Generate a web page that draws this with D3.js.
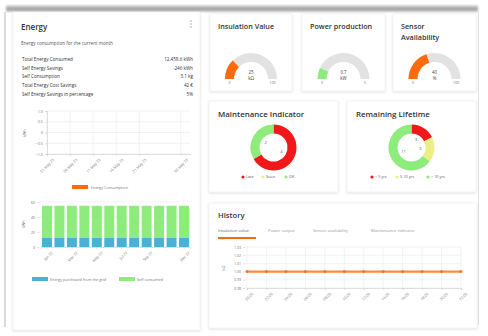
<!DOCTYPE html>
<html>
<head>
<meta charset="utf-8">
<script src="https://cdn.jsdelivr.net/npm/d3@7"></script>
<style>
  html, body { margin: 0; padding: 0; background: #fff; }
  svg { display: block; font-family: "Open Sans", "Noto Sans", sans-serif; }
</style>
</head>
<body>
<svg id="dash" width="488" height="336"></svg>
<script>
// ---- data ----
const energySummaryLabels = ["Total Energy Consumed", "Self Energy Savings", "Self Consumption", "Total Energy Cost Savings", "Self Energy Savings in percentage"];
const energySummaryValues = ["12,458.6 kWh", "-246 kWh", "3.1 kg", "42 €", "5%"];

const consumptionSeries = [];               // no readings for this period
const consumptionTicks = ["2023-05-01", "2023-05-06", "2023-05-11", "2023-05-16", "2023-05-21", "2023-05-30"];
const consumptionYTicks = [-1, -0.5, 0, 0.5, 1];

const barMonths = ["Jan 22", "Feb 22", "Mar 22", "Apr 22", "May 22", "Jun 22", "Jul 22", "Aug 22", "Sep 22", "Oct 22", "Nov 22", "Dec 22"];
const barTickMonths = ["Jan 22", "Mar 22", "May 22", "Jul 22", "Sep 22", "Dec 22"];
const purchasedEnergy = [12, 12, 12, 12, 12, 12, 12, 12, 12, 12, 12, 12];
const selfConsumed   = [43, 43, 43, 43, 43, 43, 43, 43, 43, 43, 43, 43];
const barYTicks = [0, 20, 40, 60];

const gaugeTitles = [["Insulation Value"], ["Power production"], ["Sensor", "Availability"]];
const gaugeValues = [25, 0.7, 40];
const gaugeMax    = [100, 5, 100];
const gaugeUnits  = ["kΩ", "kW", "%"];

const maintenanceLabels = ["Late", "Soon", "OK"];
const maintenanceValues = [4, 0, 2];
const lifetimeLabels = ["< 5 yrs", "5-10 yrs", "> 10 yrs"];
const lifetimeValues = [3, 3, 11];

const historyTabs = ["Insulation value", "Power output", "Sensor availability", "Maintenance indicator"];
const historyTimes = ["00:00", "02:00", "04:00", "06:00", "08:00", "10:00", "12:00", "14:00", "16:00", "18:00", "20:00", "22:00"];
const historyValues = [1, 1, 1, 1, 1, 1, 1, 1, 1, 1, 1, 1];
const historyYTicks = [0.98, 0.99, 1.00, 1.01, 1.02, 1.03];

// ---- palette ----
const ORANGE = "#ff6a0d", GREEN = "#8eec7c", BLUE = "#45b2d6", RED = "#f01818", YELLOW = "#eeee88";
const TEXT = "#333", MUTED = "#777", GRID = "#e9e9e9";

const svg = d3.select("#dash");
const defs = svg.append("defs");

const shadow = defs.append("filter").attr("id", "cardShadow").attr("x", "-10%").attr("y", "-10%").attr("width", "120%").attr("height", "120%");
shadow.append("feDropShadow").attr("dx", 0).attr("dy", 0.8).attr("stdDeviation", 1).attr("flood-color", "#000").attr("flood-opacity", 0.16);

const band = defs.append("linearGradient").attr("id", "topBand").attr("x1", 0).attr("y1", 0).attr("x2", 0).attr("y2", 1);
band.append("stop").attr("offset", "0%").attr("stop-color", "#e2e2e2");
band.append("stop").attr("offset", "55%").attr("stop-color", "#9a9a9a");
band.append("stop").attr("offset", "100%").attr("stop-color", "#cfcfcf");
const soft = defs.append("filter").attr("id", "soft");
soft.append("feGaussianBlur").attr("stdDeviation", 0.8);

// page frame
svg.append("rect").attr("width", 488).attr("height", 336).attr("fill", "#fff");
svg.append("rect").attr("x", 6).attr("y", 5).attr("width", 472).attr("height", 7).attr("fill", "url(#topBand)").attr("filter", "url(#soft)");
svg.append("line").attr("x1", 5).attr("x2", 5).attr("y1", 12).attr("y2", 327).attr("stroke", "#cfcfcf").attr("stroke-width", 1.5);
svg.append("line").attr("x1", 478.5).attr("x2", 478.5).attr("y1", 12).attr("y2", 325).attr("stroke", "#e2e2e2").attr("stroke-width", 1);

function card(x, y, w, h) {
  svg.append("rect").attr("x", x).attr("y", y).attr("width", w).attr("height", h)
    .attr("fill", "#fff").attr("stroke", "#efefef").attr("stroke-width", 0.6).attr("filter", "url(#cardShadow)");
  return svg.append("g");
}
function title(g, x, y, lines, size) {
  lines.forEach((t, i) => g.append("text").attr("x", x).attr("y", y + i * 11).text(t)
    .attr("font-size", size || 7.8).attr("font-weight", 600).attr("fill", TEXT));
}

// ================= Energy card =================
const eg = card(13, 12, 187, 318);
title(eg, 21, 30, ["Energy"], 8);
[21, 24, 27].forEach(cy => eg.append("circle").attr("cx", 191).attr("cy", cy).attr("r", 0.7).attr("fill", "#999"));
eg.append("text").attr("x", 21).attr("y", 45).attr("font-size", 4.6).attr("fill", "#555").text("Energy consumption for the current month");
energySummaryLabels.forEach((lab, i) => {
  const y = 61 + i * 8.7;
  eg.append("text").attr("x", 22).attr("y", y).attr("font-size", 4.6).attr("fill", TEXT).text(lab);
  eg.append("text").attr("x", 193).attr("y", y).attr("font-size", 4.6).attr("fill", TEXT).attr("text-anchor", "end").text(energySummaryValues[i]);
});

// consumption line chart (time axis)
const parse = d3.timeParse("%Y-%m-%d");
const cx = d3.scaleTime().domain([parse("2023-05-01"), parse("2023-06-01")]).range([47, 190]);
const cy = d3.scaleLinear().domain([-1, 1]).range([154, 111]);
const cg = eg.append("g");
cg.selectAll(".hg").data(consumptionYTicks).join("line")
  .attr("x1", 47).attr("x2", 190).attr("y1", d => cy(d)).attr("y2", d => cy(d)).attr("stroke", GRID).attr("stroke-width", 0.6);
cg.selectAll(".vg").data(consumptionTicks.map(parse)).join("line")
  .attr("x1", d => cx(d)).attr("x2", d => cx(d)).attr("y1", 111).attr("y2", 154).attr("stroke", GRID).attr("stroke-width", 0.6);
cg.append("g").attr("transform", "translate(47,0)")
  .call(d3.axisLeft(cy).tickValues(consumptionYTicks).tickSize(2).tickPadding(2).tickFormat(d => d === 0 ? "0" : d3.format(".1f")(d)))
  .call(a => a.select(".domain").attr("stroke", "#ccc").attr("stroke-width", 0.6))
  .call(a => a.selectAll(".tick line").attr("stroke", "#ccc").attr("stroke-width", 0.6))
  .call(a => a.selectAll("text").attr("font-size", 3.8).attr("fill", MUTED).attr("font-family", "Open Sans"));
cg.append("g").attr("transform", "translate(0,154)")
  .call(d3.axisBottom(cx).tickValues(consumptionTicks.map(parse)).tickSize(2).tickFormat(d3.timeFormat("%d %b %y")))
  .call(a => a.select(".domain").attr("stroke", "#ccc").attr("stroke-width", 0.6))
  .call(a => a.selectAll(".tick line").attr("stroke", "#ccc").attr("stroke-width", 0.6))
  .call(a => a.selectAll("text").attr("font-size", 3.8).attr("fill", MUTED).attr("font-family", "Open Sans")
    .attr("text-anchor", "end").attr("transform", "translate(2,1) rotate(-45)").attr("dy", "0.6em"));
cg.append("path").datum(consumptionSeries).attr("fill", "none").attr("stroke", ORANGE)
  .attr("d", d3.line().x(d => cx(parse(d.date))).y(d => cy(d.value)));
cg.append("text").attr("transform", "translate(26,133) rotate(-90)").attr("text-anchor", "middle")
  .attr("font-size", 3.8).attr("fill", MUTED).text("kWh");
cg.append("rect").attr("x", 72).attr("y", 185).attr("width", 16).attr("height", 4).attr("fill", ORANGE);
cg.append("text").attr("x", 91).attr("y", 188.6).attr("font-size", 3.8).attr("fill", MUTED).text("Energy Consumption");

// stacked bar chart
const bx = d3.scaleBand().domain(barMonths).range([41, 190]).paddingInner(0.2).paddingOuter(0.08);
const by = d3.scaleLinear().domain([0, 60]).range([247, 202]);
const bg = eg.append("g");
bg.selectAll(".bh").data(barYTicks).join("line")
  .attr("x1", 39).attr("x2", 190).attr("y1", d => by(d)).attr("y2", d => by(d)).attr("stroke", GRID).attr("stroke-width", 0.6);
const stackData = barMonths.map((m, i) => ({ month: m, purchased: purchasedEnergy[i], self: selfConsumed[i] }));
const stacked = d3.stack().keys(["purchased", "self"])(stackData);
const barColors = { purchased: BLUE, self: GREEN };
stacked.forEach(layer => {
  bg.selectAll(".b-" + layer.key).data(layer).join("rect")
    .attr("x", d => bx(d.data.month)).attr("width", bx.bandwidth())
    .attr("y", d => by(d[1])).attr("height", d => by(d[0]) - by(d[1]))
    .attr("fill", barColors[layer.key]);
});
bg.append("g").attr("transform", "translate(39,0)")
  .call(d3.axisLeft(by).tickValues(barYTicks).tickSize(2).tickPadding(2))
  .call(a => a.select(".domain").remove())
  .call(a => a.selectAll(".tick line").attr("stroke", "#ccc").attr("stroke-width", 0.6))
  .call(a => a.selectAll("text").attr("font-size", 3.6).attr("fill", MUTED).attr("font-family", "Open Sans"));
bg.append("g").attr("transform", "translate(0,247)")
  .call(d3.axisBottom(bx).tickValues(barTickMonths).tickSize(2))
  .call(a => a.select(".domain").attr("stroke", "#ccc").attr("stroke-width", 0.6))
  .call(a => a.selectAll(".tick line").attr("stroke", "#ccc").attr("stroke-width", 0.6))
  .call(a => a.selectAll("text").attr("font-size", 3.8).attr("fill", MUTED).attr("font-family", "Open Sans")
    .attr("text-anchor", "end").attr("transform", "translate(1,1) rotate(-45)").attr("dy", "0.6em"));
bg.append("text").attr("transform", "translate(25,224) rotate(-90)").attr("text-anchor", "middle")
  .attr("font-size", 3.8).attr("fill", MUTED).text("kWh");
bg.append("rect").attr("x", 32).attr("y", 277).attr("width", 16).attr("height", 4).attr("fill", BLUE);
bg.append("text").attr("x", 50).attr("y", 280.6).attr("font-size", 3.8).attr("fill", MUTED).text("Energy purchased from the grid");
bg.append("rect").attr("x", 119).attr("y", 277).attr("width", 16).attr("height", 4).attr("fill", GREEN);
bg.append("text").attr("x", 137).attr("y", 280.6).attr("font-size", 3.8).attr("fill", MUTED).text("Self consumed");

// ================= Gauges =================
const gaugeCards = [[210, 14, 82, 77], [302, 14, 83, 77], [393, 14, 83, 77]];
const gaugeColors = [ORANGE, GREEN, ORANGE];
const gArc = d3.arc().innerRadius(17).outerRadius(26);
const gaugeScale = d3.scaleLinear().range([-Math.PI / 2, Math.PI / 2]);
gaugeCards.forEach(([x, y, w, h], i) => {
  const g = card(x, y, w, h);
  title(g, x + 8, y + 15, gaugeTitles[i], 7.2);
  const gx = x + w / 2, gy = y + 65;
  const s = gaugeScale.copy().domain([0, gaugeMax[i]]);
  g.append("path").attr("transform", `translate(${gx},${gy})`)
    .attr("d", gArc({ startAngle: -Math.PI / 2, endAngle: Math.PI / 2 })).attr("fill", "#e2e2e2");
  g.append("path").attr("transform", `translate(${gx},${gy})`)
    .attr("d", gArc({ startAngle: -Math.PI / 2, endAngle: s(gaugeValues[i]) })).attr("fill", gaugeColors[i]);
  g.append("text").attr("x", gx).attr("y", gy - 5).attr("text-anchor", "middle").attr("font-size", 4.4).attr("fill", "#444").text(gaugeValues[i]);
  g.append("text").attr("x", gx).attr("y", gy + 0.5).attr("text-anchor", "middle").attr("font-size", 4.4).attr("fill", "#444").text(gaugeUnits[i]);
  g.append("text").attr("x", gx - 21.5).attr("y", gy + 5).attr("text-anchor", "middle").attr("font-size", 3.8).attr("fill", MUTED).text(0);
  g.append("text").attr("x", gx + 21.5).attr("y", gy + 5).attr("text-anchor", "middle").attr("font-size", 3.8).attr("fill", MUTED).text(gaugeMax[i]);
});

// ================= Donuts =================
const donutColors = [RED, YELLOW, GREEN];
const pie = d3.pie().sort(null).startAngle(0).endAngle(2 * Math.PI);
const dArc = d3.arc().innerRadius(14).outerRadius(23);
const lArc = d3.arc().innerRadius(9).outerRadius(9);
function donut(x, y, w, h, name, labels, values, legendXs) {
  const g = card(x, y, w, h);
  title(g, x + 9, y + 16, [name], 7.9);
  const dx = x + w / 2, dy = y + 46.5;
  const arcs = pie(values);
  const dg = g.append("g").attr("transform", `translate(${dx},${dy})`);
  dg.selectAll("path").data(arcs).join("path").attr("d", dArc).attr("fill", (d, i) => donutColors[i]);
  dg.selectAll("text").data(arcs.filter(a => a.value > 0)).join("text")
    .attr("transform", d => `translate(${lArc.centroid(d)})`).attr("text-anchor", "middle").attr("dy", "0.35em")
    .attr("font-size", 4).attr("fill", "#555").text(d => d.value);
  labels.forEach((lab, i) => {
    g.append("circle").attr("cx", legendXs[i]).attr("cy", y + 76).attr("r", 1.6).attr("fill", donutColors[i]);
    g.append("text").attr("x", legendXs[i] + 3).attr("y", y + 77.4).attr("font-size", 3.8).attr("fill", "#555").text(lab);
  });
}
donut(209, 101, 129, 91, "Maintenance Indicator", maintenanceLabels, maintenanceValues, [243, 263, 286]);
donut(347, 101, 129, 91, "Remaining Lifetime", lifetimeLabels, lifetimeValues, [372, 397, 428]);

// ================= History =================
const hg = card(209, 203, 268, 125);
title(hg, 218, 218, ["History"], 7.6);
const tabXs = [218, 268, 313, 371];
historyTabs.forEach((t, i) => hg.append("text").attr("x", tabXs[i]).attr("y", 231.5)
  .attr("font-size", 4.2).attr("fill", i === 0 ? "#666" : "#999").text(t));
hg.append("rect").attr("x", 218).attr("y", 237).attr("width", 38).attr("height", 2).attr("fill", ORANGE);

const hx = d3.scalePoint().domain(historyTimes).range([247, 461]);
const hy = d3.scaleLinear().domain([0.98, 1.03]).range([288, 247]);
hg.selectAll(".hh").data(historyYTicks).join("line")
  .attr("x1", 245).attr("x2", 461).attr("y1", d => hy(d)).attr("y2", d => hy(d)).attr("stroke", GRID).attr("stroke-width", 0.6);
hg.selectAll(".hv").data(historyTimes).join("line")
  .attr("x1", d => hx(d)).attr("x2", d => hx(d)).attr("y1", 247).attr("y2", 288).attr("stroke", GRID).attr("stroke-width", 0.6);
hg.append("g").attr("transform", "translate(245,0)")
  .call(d3.axisLeft(hy).tickValues(historyYTicks).tickSize(2).tickPadding(2).tickFormat(d3.format(".2f")))
  .call(a => a.select(".domain").remove())
  .call(a => a.selectAll(".tick line").attr("stroke", "#ccc").attr("stroke-width", 0.6))
  .call(a => a.selectAll("text").attr("font-size", 3.6).attr("fill", MUTED).attr("font-family", "Open Sans"));
hg.append("g").attr("transform", "translate(0,288)")
  .call(d3.axisBottom(hx).tickSize(2))
  .call(a => a.select(".domain").attr("stroke", "#ccc").attr("stroke-width", 0.6))
  .call(a => a.selectAll(".tick line").attr("stroke", "#ccc").attr("stroke-width", 0.6))
  .call(a => a.selectAll("text").attr("font-size", 3.8).attr("fill", MUTED).attr("font-family", "Open Sans")
    .attr("text-anchor", "end").attr("transform", "translate(1,1) rotate(-45)").attr("dy", "0.6em"));
hg.append("text").attr("transform", "translate(225,268) rotate(-90)").attr("text-anchor", "middle")
  .attr("font-size", 3.8).attr("fill", MUTED).text("kΩ");
hg.append("path").datum(historyValues).attr("fill", "none").attr("stroke", "#ff8a3c").attr("stroke-width", 2.4)
  .attr("d", d3.line().x((d, i) => hx(historyTimes[i])).y(d => hy(d)));
hg.selectAll(".hp").data(historyValues).join("circle")
  .attr("cx", (d, i) => hx(historyTimes[i])).attr("cy", d => hy(d)).attr("r", 1.4).attr("fill", "#f07020");
</script>
</body>
</html>
